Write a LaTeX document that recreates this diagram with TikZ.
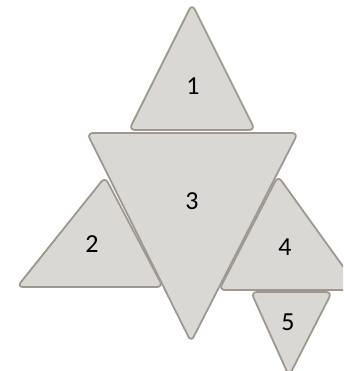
\documentclass[tikz,border=0pt]{standalone}
\usepackage{fontspec}
\setmainfont{Carlito}
\definecolor{trifill}{RGB}{217,216,213}
\definecolor{triedge}{RGB}{158,152,145}
\begin{document}
\begin{tikzpicture}[x=1pt,y=-1pt,
  tri/.style={fill=trifill,draw=triedge,line width=1.8pt,rounded corners=6pt,line join=round},
  lbl/.style={font=\fontsize{26}{30}\selectfont,text=black,inner sep=0pt}]
\useasboundingbox (0,0) rectangle (343,371);
\begin{scope}
\clip (0,0) rectangle (343,371);
% triangle 1
\draw[tri] (192,130) -- (129,130) -- (192,4) -- (255,130) -- cycle;
% triangle 2
\draw[tri] (90,287) -- (17,287) -- (105,177) -- (163,287) -- cycle;
% triangle 3
\draw[tri] (192,133) -- (298,133) -- (191,342) -- (87,133) -- cycle;
% triangle 4
\draw[tri] (290,290) -- (219,290) -- (278,176) -- (360,290) -- cycle;
% triangle 5
\draw[tri] (290,292) -- (332,292) -- (289,376) -- (251,292) -- cycle;
\end{scope}
\node[lbl] (n1) at (193,86) {1};
\node[lbl] (n2) at (92,244) {2};
\node[lbl] (n3) at (192,201) {3};
\node[lbl] (n4) at (285,247) {4};
\node[lbl] (n5) at (288,322) {5};
\end{tikzpicture}
\end{document}
